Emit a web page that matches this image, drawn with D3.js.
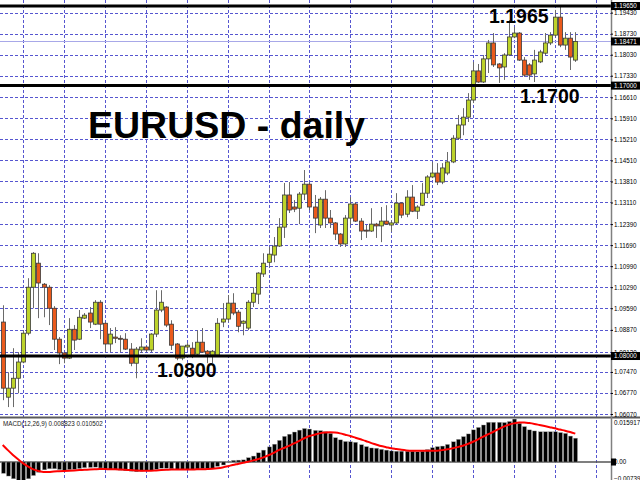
<!DOCTYPE html>
<html><head><meta charset="utf-8">
<script src="https://cdn.jsdelivr.net/npm/d3@7"></script>
<style>body{margin:0;background:#fff}svg{display:block}</style>
</head><body>
<script>
// ---- data (daily EURUSD bars, oldest first) ----
const open  = [1.0913,1.0663,1.0693,1.0726,1.0780,1.0876,1.1029,1.1109,1.1039,1.1029,
               1.0959,1.0856,1.0810,1.0793,1.0889,1.0856,1.0926,1.0943,1.0906,1.0979,
               1.0909,1.0840,1.0863,1.0859,1.0856,1.0823,1.0776,1.0820,1.0830,1.0820,
               1.0873,1.0953,1.0963,1.0906,1.0840,1.0793,1.0830,1.0826,1.0806,1.0846,
               1.0816,1.0803,1.0803,1.0913,1.0923,1.0976,1.0946,1.0909,1.0893,1.0979,
               1.1006,1.1073,1.1112,1.1136,1.1166,1.1229,1.1336,1.1296,1.1292,1.1339,
               1.1372,1.1296,1.1236,1.1322,1.1259,1.1243,1.1206,1.1173,1.1259,1.1306,
               1.1249,1.1219,1.1216,1.1239,1.1233,1.1249,1.1236,1.1243,1.1309,1.1272,
               1.1329,1.1282,1.1302,1.1342,1.1396,1.1409,1.1379,1.1409,1.1446,1.1525,
               1.1569,1.1595,1.1652,1.1749,1.1712,1.1789,1.1842,1.1772,1.1762,1.1802,
               1.1862,1.1875,1.1785,1.1769,1.1739,1.1779,1.1808,1.1842,1.1868,1.1928,
               1.1835,1.1858,1.1785];
const high  = [1.0969,1.0746,1.0826,1.0813,1.0886,1.1059,1.1146,1.1142,1.1043,1.1036,
               1.0966,1.0863,1.0813,1.0926,1.0903,1.0953,1.0943,1.0963,1.0986,1.0986,
               1.0913,1.0893,1.0896,1.0869,1.0876,1.0843,1.0830,1.0859,1.0833,1.0876,
               1.1019,1.1019,1.0966,1.0919,1.0843,1.0833,1.0843,1.0846,1.0886,1.0893,
               1.0820,1.0820,1.0926,1.0976,1.1003,1.1009,1.0953,1.0919,1.0986,1.1029,
               1.1079,1.1142,1.1163,1.1196,1.1259,1.1376,1.1379,1.1319,1.1346,1.1419,
               1.1379,1.1336,1.1329,1.1352,1.1286,1.1246,1.1209,1.1269,1.1329,1.1312,
               1.1259,1.1236,1.1292,1.1243,1.1296,1.1302,1.1252,1.1342,1.1312,1.1352,
               1.1369,1.1302,1.1376,1.1402,1.1446,1.1442,1.1442,1.1479,1.1535,1.1602,
               1.1625,1.1675,1.1779,1.1772,1.1802,1.1852,1.1875,1.1775,1.1808,1.1918,
               1.1895,1.1878,1.1795,1.1775,1.1819,1.1819,1.1875,1.1878,1.1952,1.1965,
               1.1878,1.1878,1.1878];
const low   = [1.0653,1.0630,1.0630,1.0676,1.0776,1.0869,1.0959,1.0926,1.0929,1.0903,
               1.0820,1.0773,1.0776,1.0790,1.0820,1.0853,1.0923,1.0893,1.0903,1.0856,
               1.0813,1.0813,1.0843,1.0813,1.0820,1.0766,1.0726,1.0810,1.0813,1.0813,
               1.0863,1.0946,1.0896,1.0820,1.0786,1.0786,1.0820,1.0793,1.0803,1.0810,
               1.0776,1.0776,1.0800,1.0896,1.0913,1.0936,1.0879,1.0869,1.0886,1.0963,
               1.0973,1.1063,1.1096,1.1112,1.1163,1.1193,1.1276,1.1279,1.1239,1.1319,
               1.1286,1.1209,1.1226,1.1226,1.1226,1.1186,1.1163,1.1163,1.1236,1.1246,
               1.1186,1.1193,1.1213,1.1193,1.1179,1.1236,1.1213,1.1239,1.1259,1.1262,
               1.1279,1.1256,1.1299,1.1326,1.1392,1.1369,1.1372,1.1402,1.1442,1.1519,
               1.1535,1.1579,1.1642,1.1709,1.1709,1.1742,1.1762,1.1709,1.1719,1.1799,
               1.1858,1.1782,1.1729,1.1719,1.1712,1.1775,1.1802,1.1835,1.1862,1.1828,
               1.1819,1.1752,1.1779];
const close = [1.0693,1.0693,1.0726,1.0780,1.0876,1.1029,1.1142,1.1043,1.1029,1.0959,
               1.0856,1.0810,1.0793,1.0889,1.0853,1.0929,1.0936,1.0913,1.0979,1.0906,
               1.0840,1.0873,1.0859,1.0856,1.0823,1.0776,1.0823,1.0830,1.0820,1.0873,
               1.0953,1.0979,1.0903,1.0836,1.0793,1.0833,1.0836,1.0803,1.0846,1.0813,
               1.0806,1.0816,1.0909,1.0923,1.0976,1.0943,1.0899,1.0916,1.0979,1.1009,
               1.1076,1.1109,1.1139,1.1166,1.1229,1.1336,1.1286,1.1289,1.1339,1.1372,
               1.1296,1.1259,1.1322,1.1259,1.1243,1.1206,1.1173,1.1259,1.1306,1.1249,
               1.1216,1.1216,1.1239,1.1233,1.1249,1.1239,1.1243,1.1309,1.1269,1.1329,
               1.1282,1.1296,1.1342,1.1396,1.1409,1.1379,1.1426,1.1446,1.1525,1.1569,
               1.1595,1.1652,1.1749,1.1712,1.1789,1.1842,1.1769,1.1759,1.1802,1.1862,
               1.1875,1.1785,1.1735,1.1735,1.1785,1.1812,1.1842,1.1868,1.1928,1.1835,
               1.1858,1.1795,1.18471];
const macdHist = [-0.0042,-0.0052,-0.0062,-0.0070,-0.0074,-0.0062,-0.0050,-0.0038,-0.0029,-0.0025,
                  -0.0025,-0.0028,-0.0031,-0.0028,-0.0027,-0.0024,-0.0021,-0.0020,-0.0019,-0.0022,
                  -0.0026,-0.0027,-0.0029,-0.0030,-0.0032,-0.0034,-0.0036,-0.0034,-0.0033,-0.0031,
                  -0.0027,-0.0023,-0.0023,-0.0025,-0.0028,-0.0028,-0.0028,-0.0029,-0.0026,-0.0025,
                  -0.0025,-0.0024,-0.0016,-0.0011,0.0002,0.0006,0.0007,0.0008,0.0016,0.0022,
                  0.0034,0.0044,0.0056,0.0066,0.0080,0.0095,0.0103,0.0111,0.0118,0.0124,
                  0.0122,0.0117,0.0116,0.0112,0.0106,0.0090,0.0082,0.0076,0.0075,0.0073,
                  0.0064,0.0057,0.0052,0.0051,0.0047,0.0044,0.0041,0.0040,0.0040,0.0040,
                  0.0040,0.0038,0.0040,0.0046,0.0053,0.0057,0.0059,0.0065,0.0075,0.0084,
                  0.0094,0.0104,0.0119,0.0128,0.0137,0.0147,0.0147,0.0147,0.0146,0.0150,
                  0.0159,0.0143,0.0131,0.0119,0.0115,0.0112,0.0112,0.0112,0.0112,0.0109,
                  0.0106,0.0096,0.008823];
const macdSignal = [0.0063,0.0044,0.0026,0.0010,-0.0005,-0.0017,-0.0027,-0.0033,-0.0037,-0.0037,
                    -0.0035,-0.0034,-0.0033,-0.0032,-0.0031,-0.0030,-0.0029,-0.0028,-0.0027,-0.0026,
                    -0.0026,-0.0027,-0.0027,-0.0028,-0.0029,-0.0030,-0.0031,-0.0032,-0.0032,-0.0032,
                    -0.0031,-0.0030,-0.0029,-0.0028,-0.0028,-0.0028,-0.0028,-0.0028,-0.0027,-0.0027,
                    -0.0026,-0.0025,-0.0023,-0.0020,-0.0016,-0.0011,-0.0007,-0.0003,0.0001,0.0006,
                    0.0011,0.0017,0.0025,0.0034,0.0044,0.0052,0.0060,0.0069,0.0078,0.0088,
                    0.0096,0.0101,0.0106,0.0109,0.0110,0.0109,0.0106,0.0101,0.0096,0.0090,
                    0.0084,0.0078,0.0071,0.0065,0.0059,0.0055,0.0051,0.0048,0.0045,0.0043,
                    0.0042,0.0042,0.0042,0.0042,0.0042,0.0042,0.0044,0.0047,0.0051,0.0055,
                    0.0060,0.0067,0.0075,0.0084,0.0094,0.0103,0.0112,0.0122,0.0131,0.0138,
                    0.0143,0.0146,0.0146,0.0144,0.0141,0.0137,0.0133,0.0129,0.0125,0.0120,
                    0.0116,0.0111,0.010502];
const priceTicks = [1.19430,1.18730,1.18030,1.17330,1.16610,1.15910,1.15210,1.14510,1.13810,1.13110,
                    1.12390,1.11690,1.10990,1.10290,1.09590,1.08870,1.08120,1.07470,1.06770,1.06070];
const levelValues = [1.1965, 1.1700, 1.0800];
const levelTexts  = ["1.1965", "1.1700", "1.0800"];
const bidPrice = 1.18471;
const titleText = "EURUSD - daily";
const macdText = "MACD(12,26,9) 0.008823 0.010502";
const macdMax = 0.015917, macdMin = -0.007397;

// ---- drawing ----
const W = 640, H = 480, axisX = 611;
const n = close.length;
const idx = d3.range(n);
const x = d3.scaleLinear().domain([0, n - 1]).range([2.7, 575.3]);
const y = d3.scaleLinear().domain([1.0597, 1.1985]).range([417, 0]);
const ym = d3.scaleLinear().domain([macdMin, macdMax]).range([482, 419]);
const fontFam = "'Liberation Sans', Arial, sans-serif";

const svg = d3.select("body").append("svg").attr("width", W).attr("height", H)
  .style("font-family", fontFam);
svg.append("rect").attr("width", W).attr("height", H).attr("fill", "#fff");

const gridColor = "#5656d0";
// vertical grid every 8 bars
const vIdx = d3.range(4, 120, 8);
svg.append("g").selectAll("line").data(vIdx).join("line")
  .attr("x1", d => Math.round(x(d)) + 0.5).attr("x2", d => Math.round(x(d)) + 0.5).attr("y1", 0).attr("y2", 480)
  .attr("stroke", gridColor).attr("stroke-width", 1).attr("stroke-dasharray", "3,2");
// horizontal grid
svg.append("g").selectAll("line").data(priceTicks).join("line")
  .attr("x1", 0).attr("x2", axisX).attr("y1", d => Math.round(y(d)) + 0.5).attr("y2", d => Math.round(y(d)) + 0.5)
  .attr("stroke", gridColor).attr("stroke-width", 1).attr("stroke-dasharray", "3,2");

// bid line
svg.append("line").attr("x1", 0).attr("x2", axisX)
  .attr("y1", Math.round(y(bidPrice)) + 0.5).attr("y2", Math.round(y(bidPrice)) + 0.5)
  .attr("stroke", "#a8a8e8").attr("stroke-width", 1);

// candles
const cg = svg.append("g");
cg.selectAll("line").data(idx).join("line")
  .attr("x1", i => Math.round(x(i)) + 0.5).attr("x2", i => Math.round(x(i)) + 0.5)
  .attr("y1", i => y(high[i])).attr("y2", i => y(low[i]))
  .attr("stroke", "#6a6a6a").attr("stroke-width", 1);
cg.selectAll("rect").data(idx).join("rect")
  .attr("x", i => Math.round(x(i)) - 1.5).attr("width", 4)
  .attr("y", i => y(Math.max(open[i], close[i])))
  .attr("height", i => Math.max(1, Math.abs(y(open[i]) - y(close[i]))))
  .attr("fill", i => close[i] >= open[i] ? "#bdd32a" : "#ea5a1c")
  .attr("stroke", "#3a3a3a").attr("stroke-width", 0.8);

// horizontal key levels
svg.append("g").selectAll("line").data(levelValues).join("line")
  .attr("x1", 0).attr("x2", axisX).attr("y1", d => y(d)).attr("y2", d => y(d))
  .attr("stroke", "#000").attr("stroke-width", 3);

// big labels
const lvlPos = [[489, 23], [520, 103], [157, 377]];
svg.append("g").selectAll("text").data(levelTexts).join("text")
  .attr("x", (d, i) => lvlPos[i][0]).attr("y", (d, i) => lvlPos[i][1])
  .attr("font-size", 19.5).attr("font-weight", "bold").attr("fill", "#000").text(d => d);
svg.append("text").attr("x", 88).attr("y", 138).attr("font-size", 37.5).attr("font-weight", "bold")
  .attr("fill", "#000").text(titleText);

// pane separator
svg.append("line").attr("x1", 0).attr("x2", W).attr("y1", 417.5).attr("y2", 417.5)
  .attr("stroke", "#5a5a5a").attr("stroke-width", 2);

// MACD pane
svg.append("line").attr("x1", 0).attr("x2", axisX).attr("y1", ym(0)).attr("y2", ym(0))
  .attr("stroke", "#555").attr("stroke-width", 1.5);
svg.append("g").selectAll("rect").data(idx).join("rect")
  .attr("x", i => Math.round(x(i)) - 1.5).attr("width", 4)
  .attr("y", i => Math.min(ym(0), ym(macdHist[i])))
  .attr("height", i => Math.abs(ym(macdHist[i]) - ym(0)))
  .attr("fill", "#000").attr("stroke", "#aaa").attr("stroke-width", 0.4);
svg.append("path").datum(idx)
  .attr("d", d3.line().x(i => x(i)).y(i => ym(macdSignal[i])).curve(d3.curveMonotoneX))
  .attr("fill", "none").attr("stroke", "#f00").attr("stroke-width", 2);
svg.append("text").attr("x", 3).attr("y", 426).attr("font-size", 6.3).attr("fill", "#222").text(macdText);

// right axis
svg.append("line").attr("x1", axisX + 0.5).attr("x2", axisX + 0.5).attr("y1", 0).attr("y2", H)
  .attr("stroke", "#808080").attr("stroke-width", 1.5);
const ax = d3.axisRight(y).tickValues(priceTicks).tickFormat(d3.format(".5f")).tickSize(2).tickPadding(1);
const axg = svg.append("g").attr("transform", `translate(${axisX},0)`).call(ax);
axg.select(".domain").remove();
axg.selectAll("text").attr("font-size", 6.3).attr("fill", "#000").style("font-family", fontFam);
axg.selectAll("line").attr("stroke", "#000");

// highlighted price boxes
const boxVals = [1.19650, bidPrice, 1.17000, 1.08000];
const bg = svg.append("g");
bg.selectAll("rect").data(boxVals).join("rect")
  .attr("x", axisX).attr("y", d => y(d) - 4).attr("width", W - axisX).attr("height", 8).attr("fill", "#000");
bg.selectAll("text").data(boxVals).join("text")
  .attr("x", axisX + 3).attr("y", d => y(d) + 2.2).attr("font-size", 6.3).attr("fill", "#fff")
  .text(d => d3.format(".5f")(d));

// MACD axis labels
const macdAxis = d3.axisRight(ym).tickValues([macdMax, macdMin]).tickFormat(d3.format(".6f")).tickSize(0).tickPadding(3);
const mg = svg.append("g").attr("transform", `translate(${axisX},0)`).call(macdAxis);
mg.select(".domain").remove();
mg.selectAll("text").attr("font-size", 6.3).attr("fill", "#000")
  .attr("dy", (d) => d === macdMax ? "0.9em" : "-0.2em")
  .style("font-family", fontFam);
svg.append("rect").attr("x", axisX).attr("y", ym(0) - 3.5).attr("width", 5).attr("height", 7).attr("fill", "#000");
svg.append("text").attr("x", axisX + 3).attr("y", ym(0) + 2.2).attr("font-size", 6.3).attr("fill", "#000").text("0.00");
</script>
</body></html>
